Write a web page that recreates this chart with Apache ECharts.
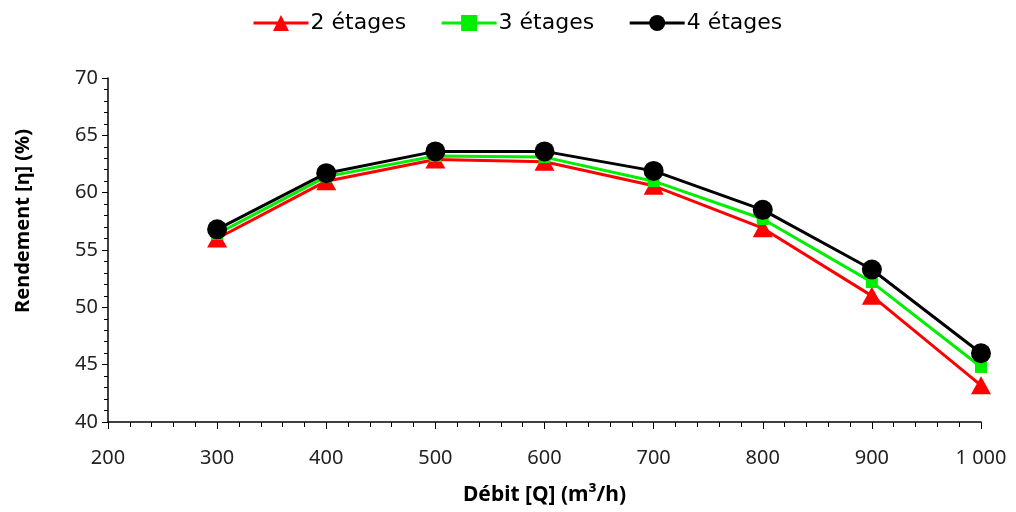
<!DOCTYPE html>
<html>
<head>
<meta charset="utf-8">
<script src="https://cdn.jsdelivr.net/npm/echarts@6/dist/echarts.min.js"></script>
<style>html,body{margin:0;padding:0;background:#fff}#c{width:1016px;height:512px}</style>
</head>
<body>
<div id="c"></div>
<script>
const debit = [300, 400, 500, 600, 700, 800, 900, 1000];
const etages2 = [56.0, 61.0, 62.9, 62.7, 60.6, 56.9, 51.0, 43.2];
const etages3 = [56.4, 61.4, 63.2, 63.1, 61.0, 57.7, 52.2, 44.8];
const etages4 = [56.8, 61.7, 63.6, 63.6, 61.9, 58.5, 53.3, 46.0];
const seriesNames = ['2 étages', '3 étages', '4 étages'];

const FONT = 'Noto Sans';
const chart = echarts.init(document.getElementById('c'));
function pairs(vals) { return debit.map((x, i) => [x, vals[i]]); }
const mk = (name, vals, color, symbol, size) => ({
  name, type: 'line', data: pairs(vals), symbol, symbolSize: size,
  lineStyle: { color, width: 3 }, itemStyle: { color },
  emphasis: { disabled: true }, animation: false
});
chart.setOption({
  animation: false,
  textStyle: { fontFamily: FONT },
  legend: {
    top: 7, left: 247, itemWidth: 55, itemHeight: 20, itemGap: 34,
    lineStyle: { width: 3 },
    textStyle: { fontSize: 22, color: '#000', fontFamily: 'DejaVu Sans', padding: [0, 0, 0, -3] },
    data: seriesNames
  },
  grid: { left: 108, right: 35, top: 78, bottom: 90 },
  xAxis: {
    type: 'value', min: 200, max: 1000, interval: 100,
    name: 'Débit [Q] (m³/h)', nameLocation: 'middle', nameGap: 63,
    nameTextStyle: { fontSize: 21, fontWeight: 'bold', color: '#000', fontFamily: FONT },
    axisLine: { lineStyle: { color: '#000', width: 1.5 } },
    axisTick: { show: true, length: 7, lineStyle: { color: '#000' } },
    minorTick: { show: true, splitNumber: 5, length: 5, lineStyle: { color: '#000' } },
    splitLine: { show: false },
    axisLabel: { fontSize: 20, color: '#222', margin: 26,
      formatter: v => v >= 1000 ? String(v).replace(/(\d)(?=(\d{3})+$)/g, '$1 ') : String(v) }
  },
  yAxis: {
    type: 'value', min: 40, max: 70, interval: 5,
    name: 'Rendement [η] (%)', nameLocation: 'middle', nameGap: 75,
    nameTextStyle: { fontSize: 20, fontWeight: 'bold', color: '#000', fontFamily: FONT, padding: [0, 0, 0, 58] },
    axisLine: { show: true, lineStyle: { color: '#000', width: 1.5 } },
    axisTick: { show: true, length: 6, lineStyle: { color: '#000' } },
    minorTick: { show: true, splitNumber: 5, length: 4, lineStyle: { color: '#000' } },
    splitLine: { show: false },
    axisLabel: { fontSize: 20, color: '#222', margin: 10 }
  },
  series: [
    mk(seriesNames[0], etages2, '#ff0000', 'triangle', [20, 18]),
    mk(seriesNames[1], etages3, '#00ee00', 'rect', 12),
    mk(seriesNames[2], etages4, '#000000', 'circle', 20)
  ]
});
</script>
</body>
</html>
